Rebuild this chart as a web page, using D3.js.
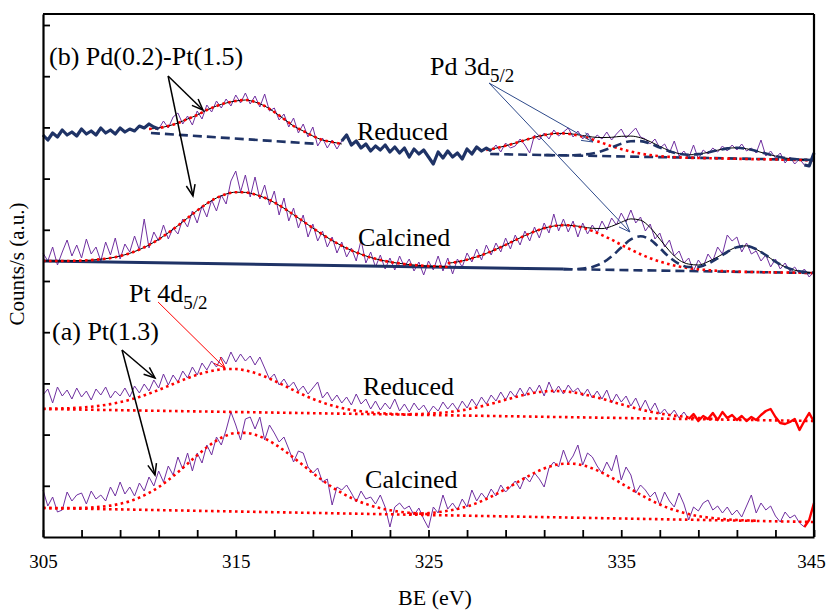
<!DOCTYPE html>
<html>
<meta charset='utf-8'>
<style>
  body{ margin: 0; background: #fff; }
  svg{ display: block; }
  text{ font-family: 'Liberation Serif', 'Times New Roman', Times, serif; fill: #000; }
</style>
<body>
<svg id='chart' width='826' height='611'></svg>
<script src='https://d3js.org/d3.v7.min.js'></script>
<script>
  // x axis: binding energy (eV), raw spectra sampled every 0.25 eV from 305
  const beTicks = d3.range(305, 346, 2)
  const beLabels = [305, 315, 325, 335, 345]
  const rawStart = 305, rawStep = 0.25
  const fitStep = 0.5

  // (b) Pd(0.2)-Pt(1.5), reduced
  const bRedRaw = [402,397,404,400,407,402,405,401,408,403,406,402,409,404,407,403,409,405,408,406,
    411,409,413,410,408,416,409,420,424,413,421,412,426,418,432,425,436,429,438,431,
    442,434,444,433,441,430,443,426,429,417,423,410,419,404,413,400,410,391,399,389,
    397,388,396,402,392,396,389,393,386,391,387,392,385,390,384,389,380,388,383,387,
    380,373,385,379,386,380,384,378,388,383,390,386,389,386,392,385,394,389,391,398,
    392,384,402,397,404,398,407,401,405,409,400,406,398,404,396,402,398,405,397,403,
    408,399,404,409,400,398,393,398,389,393,384,396,381,386,379,392,378,387,383,389,
    385,391,386,392,387,393,386,389,384,397,381,386,379,384,374,380,373,378,372,371,384]
  const bRedThick = [[305, 311], [320.5, 328.25], [344.5, 345]]
  const bRedFit1 = [408,409,411,414,418,422,427,431,434,436,437,435,431,425,418,411,406,401,397,395,393] // from 310.5
  const bRedBase1 = [[310.6, 404], [319.3, 393]]
  const bRedFit2 = [387,388.8,391.2,393.9,396.9,399.7,402,403.4,403.6,402.5,400.4,397.5,394.2,390.8,387.9,385.4,383.4,381.9,
    380.9,380.1,379.6,379.2,379,378.8,378.6,378.4,378.2,378,377.8,377.7,377.5,377.3,377.1,376.9,376.8] // from 328
  const bRedEnv2 = [387,388.8,391.2,393.9,396.9,399.7,402,403.4,403.7,402.9,401.5,400,399.4,399.7,400.7,400.9,399.2,395.4,
    390.6,386.3,383.4,382.2,382.9,384.6,386.8,388.6,389.2,388.2,386,383.4,380.9,379,377.9,377.2,377] // from 328
  const bRedPd = [381.9,381.8,381.7,381.8,382.3,383.5,386,389.5,393.3,395.8,395.9,393.4,389.4,385.7,383.1,382.2,382.9,
    384.6,386.8,388.6,389.2,388.2,386,383.4,380.9,379,377.9,377.2,377] // from 331
  const bRedBase2 = [[328.2, 383], [345, 377]]

  // (b) Pd(0.2)-Pt(1.5), calcined
  const bCalRaw = [284,276,290,272,285,297,281,292,279,298,283,290,276,295,282,299,278,293,285,301,
    287,318,289,305,296,312,298,309,303,318,310,326,314,331,320,337,326,342,333,356,
    366,345,362,340,360,338,352,332,346,322,339,316,329,309,322,300,313,296,306,290,
    300,284,295,280,289,276,297,274,285,270,282,268,279,267,281,270,278,266,275,262,
    276,267,281,266,279,263,278,270,284,275,288,277,292,282,294,285,299,288,302,292,
    306,296,310,299,314,304,323,306,318,305,316,300,314,303,312,304,316,307,319,312,
    324,315,327,314,320,306,313,298,304,290,297,281,286,274,279,266,277,270,283,276,
    290,283,302,296,300,285,294,283,286,276,282,270,278,268,274,266,270,263,268,260,265]
  const bCalFit1 = [276.1,276,276,276.1,276.4,276.9,277.8,279,281,283.7,287.4,292,297.7,304.2,311.4,319,326.5,333.4,339,343,
    344.8,344.6,342.6,339.2,334.5,328.8,322.3,315.7,308.9,302.5,296.5,291.2,286.6,282.8,279.5,277,275,273.6,272.4,271.6,
    270.9,270.6,270] // from 305
  const bCalFit2 = [273.8,275.1,277.3,280.1,283.6,287.7,292.1,296.8,301.4,305.5,308.8,311,311.9,311.3,309.3,306.1,301.9,297.3,
    292.2,287.4,282.8,278.8,275.4,272.7,270.5,268.9,267.7,266.9,266.2,265.8,265.4,265.1,264.9,264.75,264.6,264.45,264.3,264.15,264] // from 326
  const bCalEnv2 = [273.8,275.1,277.3,280.1,283.6,287.7,292.1,296.8,301.4,305.5,308.8,311,311.9,311.4,310.1,308.7,308.4,310.7,
    314.7,318.1,316.8,309.5,297.9,286.1,277,272.9,272,275.3,280.1,285.4,290,291.2,287.8,281.9,275.3,270.1,266.8,265.1,264.3] // from 326
  const bCalPd = [267.9,267.8,268.4,270.1,273.8,280.6,289.5,297.6,300.7,297.3,288.9,279.7,273.1,270,270.1,273.3,278.7,285,
    289.8,291,287.8,281.9,275.3,270.1,266.8,265.1,264.3] // from 332
  const bCalBaseSolid = [[305, 276], [332, 267.9]]
  const bCalBaseDash = [[332, 267.9], [345, 264]]

  // (a) Pt(1.3), reduced
  const aRedRaw = [142,148,134,150,141,147,138,149,140,146,137,148,142,150,139,146,141,149,140,151,
    144,153,146,157,149,163,152,162,155,166,159,170,162,174,167,176,170,180,173,185,
    175,183,176,181,172,180,169,158,163,152,158,150,155,146,151,143,149,155,139,145,
    136,142,134,140,132,143,133,138,128,136,127,134,128,138,126,133,125,134,127,132,
    124,131,126,135,128,134,127,136,129,138,131,140,133,142,136,145,137,146,140,149,
    141,150,143,152,141,155,144,151,143,152,145,149,141,148,139,146,138,147,134,143,
    135,141,131,139,128,137,126,134,123,128,121,127,119,125,118,123,116,121,118,124,
    117,125,119,122,117,121,116,120,117,122,126,128,120,114,113,115,118,107,116,124,115]
  const aRedThick = [[338.5, 345]]
  const aRedFit1 = [128.3,128.4,128.6,128.9,129.5,130.3,131.4,132.9,134.8,137.2,140.1,143.4,147.1,151,155,158.8,162.2,165,167,168,
    168,166.5,164,160.5,156.2,151.5,146.8,142.2,138.1,134.5,131.5,129,127.1,125.7,124.6,123.8,123.2,122.8,122.5] // from 305
  const aRedFit2 = [122.8,123,123.3,124,124.8,126,127.6,129.6,131.9,134.5,137.2,139.9,142.3,144.3,145.6,146,145.7,144.6,142.9,
    140.7,138.2,135.4,132.7,130,127.5,125.4,123.5,122,120.8,119.8,119,118.4,118] // from 324
  const aRedBase = [[305, 128], [345, 116]]

  // (a) Pt(1.3), calcined
  const aCalRaw = [47,31,40,25,27,45,36,42,44,33,46,38,42,36,50,41,55,43,50,41,
    54,46,60,51,66,55,71,62,80,68,84,66,84,74,92,82,100,92,107,125,
    112,97,118,120,108,120,97,112,104,95,100,88,75,86,84,70,64,69,55,58,
    32,50,47,52,44,35,46,38,40,33,42,30,10,30,34,28,31,22,29,18,
    9,30,24,42,28,34,27,38,30,47,36,44,38,48,41,52,45,50,56,48,
    60,55,64,58,50,69,75,70,87,74,81,92,72,84,80,71,64,75,66,82,
    57,70,62,44,52,47,40,45,32,45,36,30,44,33,17,30,26,34,37,27,
    31,24,30,22,27,20,31,42,24,34,27,31,21,15,25,19,22,14,10,17,34]
  const aCalThick = [[344.5, 345]]
  const aCalFit1 = [29.1,28.9,28.9,29,29.1,29.5,30.2,31.4,33.2,35.8,39.4,44.1,49.9,57,64.8,73.2,81.7,89.7,96.4,101.4,
    104,104.1,102.2,98.5,93.2,86.6,79.3,71.7,63.9,56.6,49.9,44.1,39,34.8,31.5,28.8,26.8,25.2,24.2,23.4,22.8] // from 305
  const aCalFit2 = [23.1,23.4,23.9,24.8,26.2,28.1,30.6,33.9,38,42.8,47.9,53.5,59,64.2,68.5,71.6,73.2,73.3,71.7,68.6,
    64.4,59.3,53.7,47.9,42.3,37.1,32.5,28.6,25.5,22.9,20.9,19.5,18.4,17.6,17,16.6,16.3] // from 324
  const aCalBase = [[305, 29], [345, 15]]

  // annotations (BE, counts)
  const labels = [
    {t: '(b) Pd(0.2)-Pt(1.5)', be: 305.31, c: 472},
    {t: 'Reduced', be: 321.29, c: 397},
    {t: 'Calcined', be: 321.34, c: 291},
    {t: 'Pd 3d', sub: '5/2', be: 325.08, c: 462},
    {t: 'Pt 4d', sub: '5/2', be: 309.46, c: 235},
    {t: '(a) Pt(1.3)', be: 305.47, c: 197},
    {t: 'Reduced', be: 321.6, c: 142},
    {t: 'Calcined', be: 321.71, c: 49}
  ]
  const arrows = [
    {from: [311.49, 461], to: [313.3, 427], color: '#000', w: 1.5},
    {from: [311.49, 461], to: [312.78, 341], color: '#000', w: 1.5},
    {from: [309.1, 187], to: [310.81, 159], color: '#000', w: 1.5},
    {from: [309.1, 187], to: [310.81, 62], color: '#000', w: 1.5},
    {from: [328.14, 454], to: [333.53, 395], color: '#2e4a8a', w: 1},
    {from: [328.14, 454], to: [335.45, 305], color: '#2e4a8a', w: 1},
    {from: [310.97, 235], to: [314.44, 169], color: '#ff0000', w: 1}
  ]

  const serif = "'Liberation Serif', 'Times New Roman', Times, serif"
  const purple = '#7030a0', navy = '#1f3366', red = '#ff0000'

  const svg = d3.select('#chart')
  const x = d3.scaleLinear().domain([305, 345]).range([43, 814])
  const y = d3.scaleLinear().domain([0, 523]).range([537, 14])

  const pts = (arr, start, step) => arr.map((v, i) => [start + i * step, v])
  const inRange = (data, r) => data.filter(d => d[0] >= r[0] - 1e-9 && d[0] <= r[1] + 1e-9)
  const line = d3.line().x(d => x(d[0])).y(d => y(d[1]))
  const smooth = d3.line().x(d => x(d[0])).y(d => y(d[1])).curve(d3.curveMonotoneX)

  const plot = svg.append('g')

  const draw = (data, gen, color, width, dash) => {
    plot.append('path').datum(data)
      .attr('d', gen).attr('fill', 'none')
      .attr('stroke', color).attr('stroke-width', width)
      .attr('stroke-dasharray', dash || null)
      .attr('stroke-linejoin', 'round')
  }
  const dotted = '2.6 3.4'
  const dashed = '9 5'

  // raw spectra (thin purple)
  const bRed = pts(bRedRaw, rawStart, rawStep)
  const bCal = pts(bCalRaw, rawStart, rawStep)
  const aRed = pts(aRedRaw, rawStart, rawStep)
  const aCal = pts(aCalRaw, rawStart, rawStep)
  ;[bRed, bCal, aRed, aCal].forEach(s => draw(s, line, purple, 1))

  // (b) reduced fits
  draw(pts(bRedFit1, 310.5, fitStep), smooth, '#000', 1)
  draw(pts(bRedFit1, 310.5, fitStep), smooth, red, 2.6, dotted)
  draw(bRedBase1, line, navy, 2.6, dashed)
  draw(bRedBase2, line, navy, 2.6, dashed)
  draw(pts(bRedEnv2, 328, fitStep), smooth, '#000', 1)
  draw(pts(bRedFit2, 328, fitStep), smooth, red, 2.6, dotted)
  draw(pts(bRedPd, 331, fitStep), smooth, navy, 2.6, dashed)
  bRedThick.forEach(r => draw(inRange(bRed, r), line, navy, 3.2))

  // (b) calcined fits
  draw(bCalBaseSolid, line, navy, 3)
  draw(bCalBaseDash, line, navy, 2.6, dashed)
  draw(pts(bCalFit1, 305, fitStep), smooth, '#000', 1)
  draw(pts(bCalEnv2, 326, fitStep), smooth, '#000', 1)
  draw(pts(bCalFit1, 305, fitStep), smooth, red, 2.6, dotted)
  draw(pts(bCalFit2, 326, fitStep), smooth, red, 2.6, dotted)
  draw(pts(bCalPd, 332, fitStep), smooth, navy, 2.6, dashed)

  // (a) fits
  draw(aRedBase, line, red, 2.6, dotted)
  draw(pts(aRedFit1, 305, fitStep), smooth, red, 2.6, dotted)
  draw(pts(aRedFit2, 324, fitStep), smooth, red, 2.6, dotted)
  aRedThick.forEach(r => draw(inRange(aRed, r), line, red, 2.4))
  draw(aCalBase, line, red, 2.6, dotted)
  draw(pts(aCalFit1, 305, fitStep), smooth, red, 2.6, dotted)
  draw(pts(aCalFit2, 324, fitStep), smooth, red, 2.6, dotted)
  aCalThick.forEach(r => draw(inRange(aCal, r), line, red, 2.4))

  // axes
  const xAxis = svg.append('g').attr('transform', 'translate(0,537)')
    .call(d3.axisBottom(x).tickValues(beTicks).tickSizeInner(-7).tickSizeOuter(0).tickPadding(18)
      .tickFormat(d => beLabels.includes(d) ? d : ''))
  xAxis.attr('font-family', serif)
  xAxis.select('.domain').attr('stroke-width', 2.2)
  xAxis.selectAll('.tick line').attr('stroke-width', 1.8)
  xAxis.selectAll('text').attr('font-size', 19).attr('font-family', serif)
    .attr('dx', d => d === 345 ? -3 : 0)

  const yAxis = svg.append('g').attr('transform', 'translate(43,0)')
    .call(d3.axisLeft(y).tickValues(d3.range(1, 11).map(i => i * 51.2)).tickSizeInner(-7).tickSizeOuter(0).tickFormat(''))
  yAxis.select('.domain').attr('stroke-width', 2.2)
  yAxis.selectAll('.tick line').attr('stroke-width', 1.8)

  svg.append('line').attr('x1', x(305)).attr('x2', x(345)).attr('y1', y(523)).attr('y2', y(523))
    .attr('stroke', '#000').attr('stroke-width', 2)
  svg.append('line').attr('x1', x(345)).attr('x2', x(345)).attr('y1', y(523)).attr('y2', y(0))
    .attr('stroke', '#000').attr('stroke-width', 2.2)

  svg.append('text').attr('x', 435).attr('y', 605).attr('text-anchor', 'middle')
    .attr('font-family', serif).attr('font-size', 22).text('BE (eV)')
  svg.append('text').attr('transform', 'translate(24,264) rotate(-90)').attr('text-anchor', 'middle')
    .attr('font-family', serif).attr('font-size', 21).text('Counts/s (a.u.)')

  // labels
  labels.forEach(l => {
    const t = svg.append('text').attr('x', x(l.be)).attr('y', y(l.c))
      .attr('font-family', serif).attr('font-size', 26)
    t.append('tspan').text(l.t)
    if (l.sub) t.append('tspan').attr('font-size', 19).attr('dy', 7).text(l.sub)
  })

  // arrows with open heads
  arrows.forEach(a => {
    const x1 = x(a.from[0]), y1 = y(a.from[1]), x2 = x(a.to[0]), y2 = y(a.to[1])
    const ang = Math.atan2(y2 - y1, x2 - x1), hl = 12, spread = 0.38
    svg.append('line').attr('x1', x1).attr('y1', y1).attr('x2', x2).attr('y2', y2)
      .attr('stroke', a.color).attr('stroke-width', a.w)
    const head = [[x2 - hl * Math.cos(ang - spread), y2 - hl * Math.sin(ang - spread)], [x2, y2],
      [x2 - hl * Math.cos(ang + spread), y2 - hl * Math.sin(ang + spread)]]
    svg.append('path').attr('d', d3.line()(head)).attr('fill', 'none')
      .attr('stroke', a.color).attr('stroke-width', a.w)
  })
</script>
</body>
</html>
